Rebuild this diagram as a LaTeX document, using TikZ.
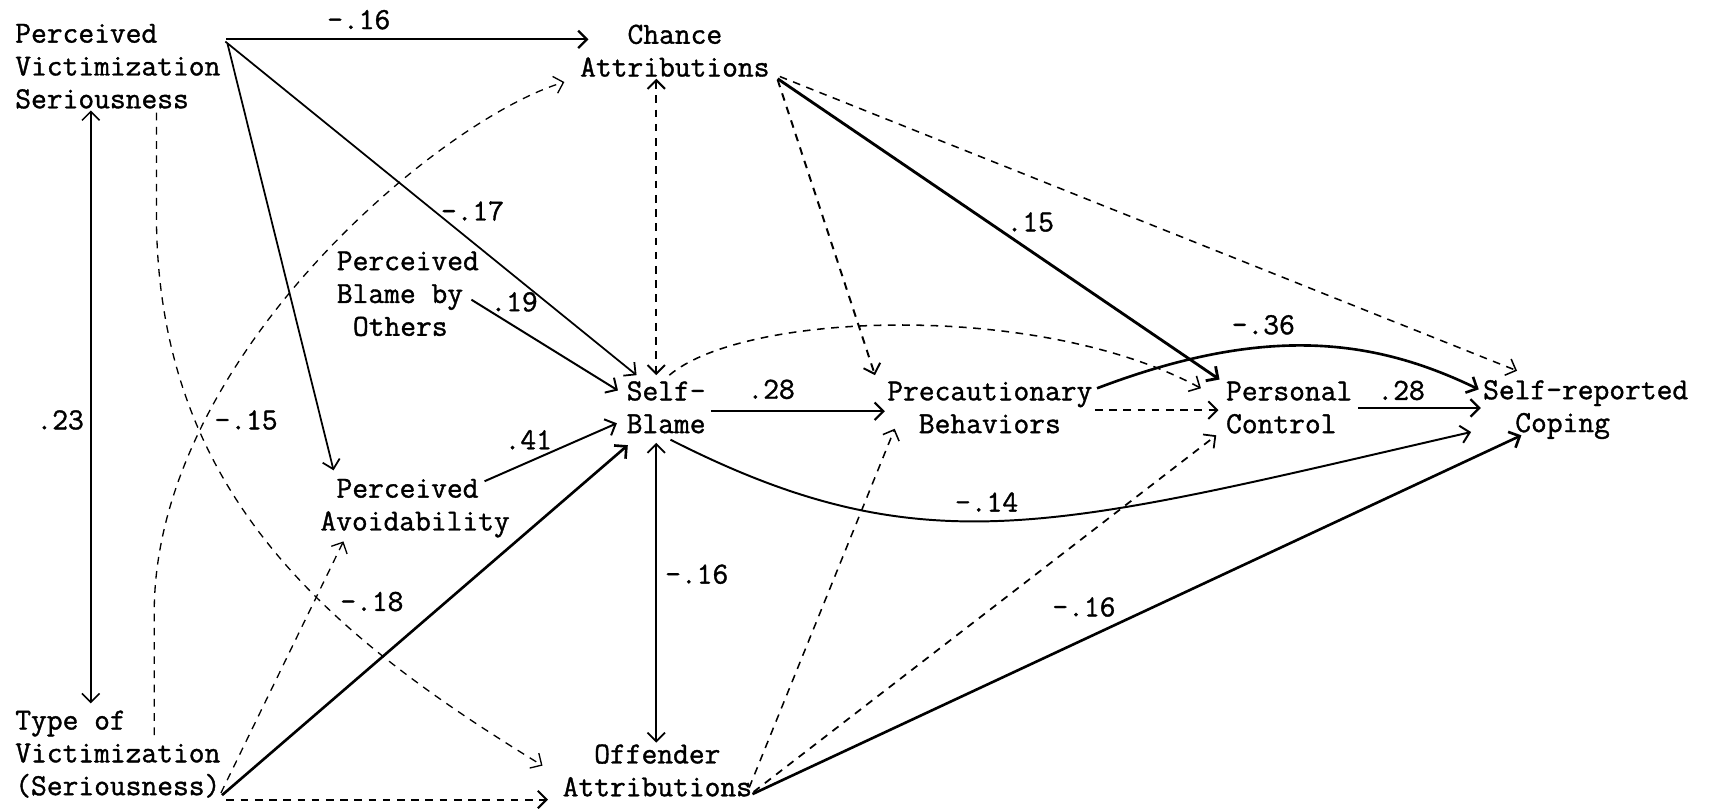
\documentclass[tikz,border=0pt]{standalone}
\usepackage{fontspec}
\newfontfamily\twfont{lmmono12-regular.otf}[FakeBold=1.2]
\usetikzlibrary{arrows.meta,calc}
\begin{document}
\begin{tikzpicture}[x=0.5pt,y=-0.5pt,
  every node/.style={inner sep=0pt, outer sep=0pt, font=\twfont\fontsize{14}{15}\selectfont},
  var/.style={anchor=base west, align=left},
  varc/.style={anchor=base, align=center},
  lbl/.style={anchor=center},
  ln/.style={line width=#1},
  dsh/.style={line width=#1, dash pattern=on 3.5pt off 3pt},
  ar/.style={-{Straight Barb[length=4pt,width=8pt]}},
  dar/.style={{Straight Barb[length=4pt,width=8pt]}-{Straight Barb[length=4pt,width=8pt]}}
]
\useasboundingbox (0,0) rectangle (1568,739);

% variables (anchor = baseline of the last line)
\node[var]  (pvs)    at (14,99)    {Perceived\\Victimization\\Seriousness};
\node[varc] (chance) at (617,70)   {Chance\\Attributions};
\node[var]  (pbo)    at (308,307)  {Perceived\\Blame by\\\hspace*{0.525em}Others};
\node[var]  (sb)     at (573,396)  {Self-\\Blame};
\node[varc] (prec)   at (905,396)  {Precautionary\\Behaviors};
\node[var]  (pc)     at (1121,396) {Personal\\Control};
\node[var]  (src)    at (1356,395) {Self-reported\\\hspace*{1.05em}Coping};
\node[var]  (pa)     at (293,485)  {\hspace*{0.525em}Perceived\\Avoidability};
\node[varc] (oa)     at (601,728)  {Offender\\Attributions};
\node[var]  (tv)     at (14,727)   {Type of\\Victimization\\(Seriousness)};

% connectors
\draw[ln=1pt, ar] ($(pvs.base west)+(193,-63)$) -- ($(chance.base)+(-79,-34)$);
\draw[ln=0.8pt, ar] ($(pvs.base west)+(192,-61)$) -- ($(sb.base west)+(9,-53)$);
\draw[ln=0.8pt, ar] ($(pvs.base west)+(194,-59)$) -- ($(pa.base west)+(12,-55)$);
\draw[ln=0.7pt, dar] ($(pvs.base west)+(69,2)$) -- ($(tv.base west)+(69,-84)$);
\draw[dsh=0.6pt, ar] ($(pvs.base west)+(129,4)$) -- ($(pvs.base west)+(129,96)$)
   .. controls ($(pvs.base west)+(129,351)$) and ($(oa.base)+(-301,-148)$) .. ($(oa.base)+(-105,-28)$);
\draw[dsh=0.6pt, ar] ($(tv.base west)+(127,-55)$) -- ($(tv.base west)+(127,-167)$)
   .. controls ($(tv.base west)+(127,-397)$) and ($(chance.base)+(-217,40)$) .. ($(chance.base)+(-101,5)$);
\draw[dsh=0.6pt, ar] ($(tv.base west)+(188,-2)$) -- ($(pa.base west)+(21,10)$);
\draw[ln=1.2pt, ar] ($(tv.base west)+(189,0)$) -- ($(sb.base west)+(1,11)$);
\draw[dsh=0.9pt, ar] ($(tv.base west)+(193,4)$) -- ($(oa.base)+(-100,3)$);
\draw[ln=0.9pt, ar] ($(pbo.base west)+(123,-33)$) -- ($(sb.base west)+(-8,-39)$);
\draw[ln=0.9pt, ar] ($(pa.base west)+(150,-45)$) -- ($(sb.base west)+(-9,-9)$);
\draw[dsh=0.9pt, dar] ($(chance.base)+(-17,2)$) -- ($(sb.base west)+(27,-53)$);
\draw[ln=0.8pt, dar] ($(sb.base west)+(27,9)$) -- ($(oa.base)+(-1,-49)$);
\draw[ln=1pt, ar] ($(sb.base west)+(77,-20)$) -- ($(prec.base)+(-96,-20)$);
\draw[dsh=0.7pt, ar] ($(sb.base west)+(39,-53)$)
   .. controls ($(sb.base west)+(107,-111)$) and ($(pc.base west)+(-171,-121)$) .. ($(pc.base west)+(-23,-41)$);
\draw[ln=0.9pt, ar] ($(sb.base west)+(40,6)$)
   .. controls ($(sb.base west)+(274,125)$) and ($(src.base west)+(-390,87)$) .. ($(src.base west)+(-11,0)$);
\draw[dsh=0.9pt, ar] ($(chance.base)+(94,3)$) -- ($(prec.base)+(-105,-53)$);
\draw[ln=1.3pt, ar] ($(chance.base)+(94,2)$) -- ($(pc.base west)+(-6,-49)$);
\draw[dsh=0.7pt, ar] ($(chance.base)+(96,0)$) -- ($(src.base west)+(31,-56)$);
\draw[ln=1.2pt, ar] ($(prec.base)+(98,-41)$)
   .. controls ($(prec.base)+(253,-100)$) and ($(src.base west)+(-99,-85)$) .. ($(src.base west)+(-4,-39)$);
\draw[dsh=0.9pt, ar] ($(prec.base)+(96,-21)$) -- ($(pc.base west)+(-7,-21)$);
\draw[ln=1.1pt, ar] ($(pc.base west)+(121,-23)$) -- ($(src.base west)+(-2,-22)$);
\draw[dsh=0.7pt, ar] ($(oa.base)+(84,-8)$) -- ($(prec.base)+(-87,-4)$);
\draw[dsh=0.8pt, ar] ($(oa.base)+(88,-4)$) -- ($(pc.base west)+(-9,2)$);
\draw[ln=1.2pt, ar] ($(oa.base)+(87,-2)$) -- ($(src.base west)+(35,3)$);

% coefficients
\node[lbl] (c1)  at (328,18)   {-.16};
\node[lbl] (c2)  at (432,193)  {-.17};
\node[lbl] (c3)  at (942,203)  {.15};
\node[lbl] (c4)  at (470,276)  {.19};
\node[lbl] (c5)  at (55,384)   {.23};
\node[lbl] (c6)  at (225,384)  {-.15};
\node[lbl] (c7)  at (483,402)  {.41};
\node[lbl] (c8)  at (705,356)  {.28};
\node[lbl] (c9)  at (1155,297) {-.36};
\node[lbl] (c10) at (1281,357) {.28};
\node[lbl] (c11) at (902,459)  {-.14};
\node[lbl] (c12) at (637,525)  {-.16};
\node[lbl] (c13) at (340,550)  {-.18};
\node[lbl] (c14) at (991,555)  {-.16};
\end{tikzpicture}
\end{document}
